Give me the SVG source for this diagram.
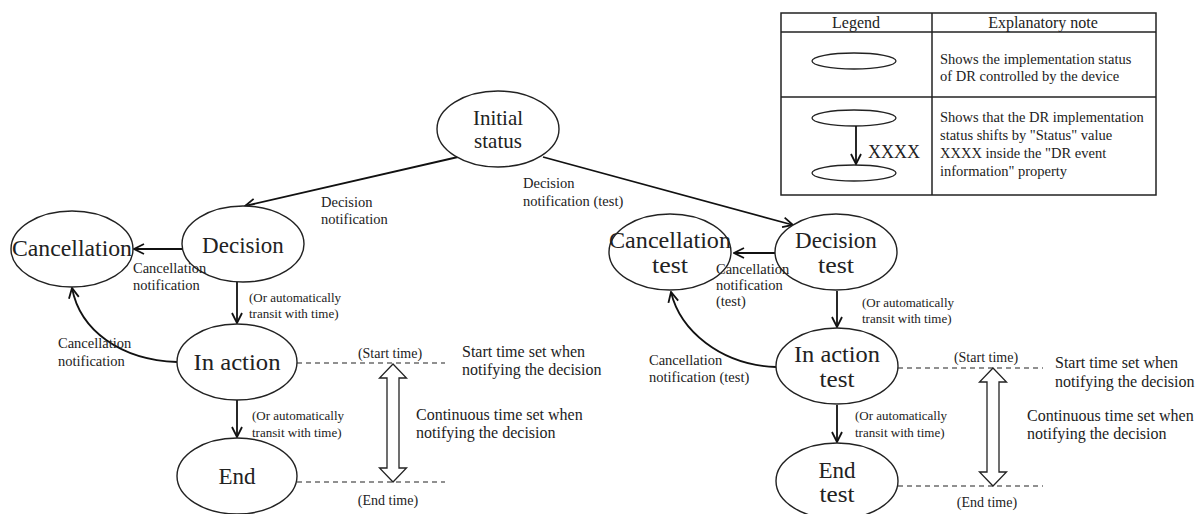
<svg xmlns="http://www.w3.org/2000/svg" width="1200" height="514" viewBox="0 0 1200 514">
<style>
text{font-family:"Liberation Serif","Times New Roman",serif;fill:#222}
.node ellipse{fill:#fff;stroke:#222;stroke-width:1.4}
.big{font-size:23px;text-anchor:middle}
.lbl{font-size:14.5px}
.sm{font-size:13px}
.tm{font-size:14px;text-anchor:middle}
.note{font-size:16px}
.lg{font-size:14.5px}
.arr{fill:none;stroke:#111;stroke-width:1.8;marker-end:url(#ah)}
.dash{fill:none;stroke:#222;stroke-width:1.2;stroke-dasharray:5,4}
.dbl{fill:#fff;stroke:#222;stroke-width:1.3}
.tbl{fill:none;stroke:#222;stroke-width:1.5}
</style>
<defs>
<marker id="ah" viewBox="0 0 12 12" refX="11" refY="6" markerWidth="12" markerHeight="12" markerUnits="userSpaceOnUse" orient="auto">
<path d="M1,1 L11,6 L1,11" fill="none" stroke="#111" stroke-width="1.8"/>
</marker>
</defs>

<g id="legend">
<rect class="tbl" x="781" y="13" width="375" height="182"/>
<line class="tbl" x1="781" y1="32" x2="1156" y2="32"/>
<line class="tbl" x1="781" y1="97" x2="1156" y2="97"/>
<line class="tbl" x1="932" y1="13" x2="932" y2="195"/>
<text class="note" x="856" y="28" text-anchor="middle">Legend</text>
<text class="note" x="1043" y="28" text-anchor="middle">Explanatory note</text>
<ellipse cx="854" cy="61" rx="42" ry="8" fill="#fff" stroke="#222" stroke-width="1.3"/>
<text class="lg" x="940" y="64">Shows the implementation status</text>
<text class="lg" x="940" y="81">of DR controlled by the device</text>
<ellipse cx="854" cy="118" rx="42" ry="8" fill="#fff" stroke="#222" stroke-width="1.3"/>
<ellipse cx="854" cy="173" rx="42" ry="8" fill="#fff" stroke="#222" stroke-width="1.3"/>
<line class="arr" x1="856" y1="126" x2="856" y2="164"/>
<text x="868" y="158" style="font-size:18px">XXXX</text>
<text class="lg" x="940" y="122">Shows that the DR implementation</text>
<text class="lg" x="940" y="140">status shifts by "Status" value</text>
<text class="lg" x="940" y="158">XXXX inside the "DR event</text>
<text class="lg" x="940" y="176">information" property</text>
</g>

<g id="connectors">
<line class="arr" x1="458" y1="157" x2="245" y2="206"/>
<line class="arr" x1="543" y1="157" x2="793" y2="225"/>
<line class="arr" x1="182" y1="249" x2="134" y2="249"/>
<line class="arr" x1="237" y1="282" x2="237" y2="323"/>
<line class="arr" x1="237" y1="400" x2="237" y2="437"/>
<path class="arr" d="M177,362 C120,360 80,330 72,288"/>
<line class="arr" x1="775" y1="253" x2="734" y2="253"/>
<line class="arr" x1="837" y1="291" x2="837" y2="327"/>
<line class="arr" x1="837" y1="405" x2="837" y2="442"/>
<path class="arr" d="M776,367 C720,365 680,330 671,292"/>
<line class="dash" x1="297" y1="363" x2="445" y2="363"/>
<line class="dash" x1="297" y1="482" x2="445" y2="482"/>
<line class="dash" x1="898" y1="368" x2="1043" y2="368"/>
<line class="dash" x1="898" y1="486" x2="1043" y2="486"/>
<polygon class="dbl" points="393,364 406.5,378 399,378 399,468 406.5,468 393,482 379.5,468 387,468 387,378 379.5,378"/>
<polygon class="dbl" points="993,368 1006.5,382 999,382 999,472 1006.5,472 993,486 979.5,472 987,472 987,382 979.5,382"/>
</g>

<g id="node-initial" class="node">
<ellipse cx="498" cy="129" rx="61" ry="38"/>
<text class="big" x="498" y="125" style="font-size:21px">Initial</text>
<text class="big" x="498" y="148" style="font-size:21px">status</text>
</g>
<g id="node-decision" class="node">
<ellipse cx="243" cy="244" rx="61" ry="38"/>
<text class="big" x="243" y="253">Decision</text>
</g>
<g id="node-cancellation" class="node">
<ellipse cx="72" cy="249" rx="61" ry="38"/>
<text class="big" x="72" y="256" textLength="120" lengthAdjust="spacingAndGlyphs">Cancellation</text>
</g>
<g id="node-inaction" class="node">
<ellipse cx="237" cy="362" rx="60" ry="38"/>
<text class="big" x="237" y="370" textLength="87" lengthAdjust="spacingAndGlyphs">In action</text>
</g>
<g id="node-end" class="node">
<ellipse cx="237" cy="476" rx="60" ry="38"/>
<text class="big" x="237" y="484">End</text>
</g>
<g id="node-cancellation-test" class="node">
<ellipse cx="670" cy="252" rx="61" ry="38"/>
<text class="big" x="670" y="248" textLength="122" lengthAdjust="spacingAndGlyphs">Cancellation</text>
<text class="big" x="670" y="273" textLength="36" lengthAdjust="spacingAndGlyphs">test</text>
</g>
<g id="node-decision-test" class="node">
<ellipse cx="836" cy="252" rx="61" ry="38"/>
<text class="big" x="836" y="248">Decision</text>
<text class="big" x="836" y="273" textLength="36" lengthAdjust="spacingAndGlyphs">test</text>
</g>
<g id="node-inaction-test" class="node">
<ellipse cx="837" cy="366" rx="61" ry="38"/>
<text class="big" x="837" y="362" textLength="86" lengthAdjust="spacingAndGlyphs">In action</text>
<text class="big" x="837" y="387" textLength="35" lengthAdjust="spacingAndGlyphs">test</text>
</g>
<g id="node-end-test" class="node">
<ellipse cx="837" cy="481" rx="61" ry="38"/>
<text class="big" x="837" y="478">End</text>
<text class="big" x="837" y="502" textLength="35" lengthAdjust="spacingAndGlyphs">test</text>
</g>

<g id="labels">
<text class="lbl" x="321" y="207">Decision</text>
<text class="lbl" x="321" y="224">notification</text>
<text class="lbl" x="523" y="188">Decision</text>
<text class="lbl" x="523" y="206">notification (test)</text>
<text class="lbl" x="133" y="273">Cancellation</text>
<text class="lbl" x="133" y="290">notification</text>
<text class="sm" x="249" y="302">(Or automatically</text>
<text class="sm" x="249" y="318">transit with time)</text>
<text class="lbl" x="58" y="348">Cancellation</text>
<text class="lbl" x="58" y="366">notification</text>
<text class="tm" x="390" y="358">(Start time)</text>
<text class="tm" x="388" y="505">(End time)</text>
<text class="sm" x="252" y="420">(Or automatically</text>
<text class="sm" x="252" y="437">transit with time)</text>
<text class="note" x="462" y="357">Start time set when</text>
<text class="note" x="462" y="375">notifying the decision</text>
<text class="note" x="416" y="420">Continuous time set when</text>
<text class="note" x="416" y="438">notifying the decision</text>

<text class="lbl" x="716" y="274">Cancellation</text>
<text class="lbl" x="716" y="290">notification</text>
<text class="lbl" x="716" y="306">(test)</text>
<text class="sm" x="862" y="307">(Or automatically</text>
<text class="sm" x="862" y="323">transit with time)</text>
<text class="lbl" x="649" y="365">Cancellation</text>
<text class="lbl" x="649" y="382">notification (test)</text>
<text class="tm" x="986" y="362">(Start time)</text>
<text class="tm" x="987" y="507">(End time)</text>
<text class="sm" x="855" y="420">(Or automatically</text>
<text class="sm" x="855" y="437">transit with time)</text>
<text class="note" x="1055" y="368">Start time set when</text>
<text class="note" x="1055" y="387">notifying the decision</text>
<text class="note" x="1027" y="421">Continuous time set when</text>
<text class="note" x="1027" y="439">notifying the decision</text>
</g>
</svg>
